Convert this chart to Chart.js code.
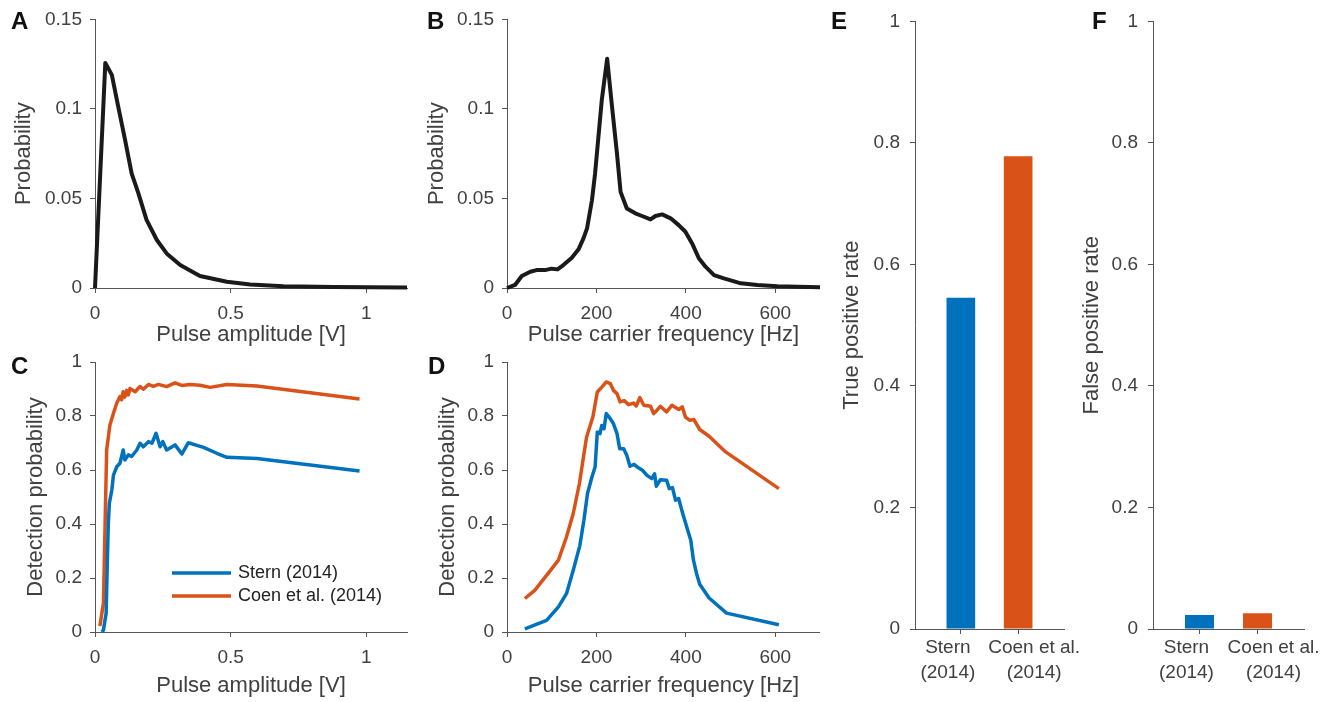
<!DOCTYPE html>
<html>
<head>
<meta charset="utf-8">
<script src="https://cdn.jsdelivr.net/npm/chart.js@4.4.1/dist/chart.umd.min.js"></script>
<style>
    body { margin: 0; background: #fff; width: 1331px; height: 702px; position: relative; overflow: hidden;
           font-family: 'Liberation Sans', Arial, Helvetica, sans-serif; }
    canvas { position: absolute; }
    .tag { position: absolute; font-weight: bold; font-size: 24px; line-height: 24px; color: #111; }
</style>
</head>
<body>
<canvas id="chartA" width="420" height="350" style="left:0px;top:0px"></canvas>
<canvas id="chartB" width="400" height="350" style="left:420px;top:0px"></canvas>
<canvas id="chartC" width="420" height="362" style="left:0px;top:340px"></canvas>
<canvas id="chartD" width="400" height="362" style="left:420px;top:340px"></canvas>
<canvas id="chartE" width="280" height="702" style="left:820px;top:0px"></canvas>
<canvas id="chartF" width="261" height="702" style="left:1070px;top:0px"></canvas>

<div class="tag" style="left:11px;top:9px">A</div>
<div class="tag" style="left:427px;top:9px">B</div>
<div class="tag" style="left:11px;top:354px">C</div>
<div class="tag" style="left:428px;top:354px">D</div>
<div class="tag" style="left:831px;top:9px">E</div>
<div class="tag" style="left:1092px;top:9px">F</div>

<script>
// ===== DATOS =====
// A: distribución de amplitud de pulso
const ampBins = [0, 0.038, 0.062, 0.086, 0.111, 0.135, 0.16, 0.19, 0.228, 0.264, 0.314, 0.387, 0.486, 0.572, 0.695, 0.88, 1.15];
const ampProb = [0, 0.1257, 0.119, 0.101, 0.0826, 0.064, 0.0528, 0.038, 0.0268, 0.0193, 0.0128, 0.0067, 0.0035, 0.002, 0.001, 0.0005, 0.0003];

// B: distribución de frecuencia portadora
const freqBins = [0, 18, 33, 52, 66, 85, 100, 113, 126, 145, 160, 171, 179, 190, 197, 212, 224, 235, 246, 254,
                  268, 287, 302, 321, 332, 347, 366, 384, 399, 414, 429, 444, 463, 485, 523, 560, 605, 650, 700];
const freqProb = [0, 0.0017, 0.0067, 0.0091, 0.010, 0.010, 0.0108, 0.0104, 0.0128, 0.0169, 0.0216, 0.0277, 0.0333, 0.049, 0.064, 0.105, 0.128, 0.101, 0.075, 0.0537,
                  0.0444, 0.0417, 0.0402, 0.0383, 0.0402, 0.0411, 0.0389, 0.0351, 0.0314, 0.0249, 0.0166, 0.0119, 0.0072, 0.0054, 0.0026, 0.0017, 0.001, 0.0007, 0.0004];

// C: detección vs amplitud
const ampSternX = [0.025, 0.031, 0.041, 0.045, 0.049, 0.053, 0.062, 0.068, 0.08, 0.092, 0.104, 0.11, 0.123, 0.135, 0.154, 0.166, 0.178, 0.197,
                   0.21, 0.225, 0.24, 0.25, 0.264, 0.295, 0.32, 0.344, 0.4, 0.449, 0.486, 0.597, 0.975];
const ampSternY = [0, 0.007, 0.069, 0.242, 0.4, 0.477, 0.526, 0.581, 0.612, 0.625, 0.674, 0.637, 0.656, 0.65, 0.674, 0.699, 0.686, 0.705,
                   0.699, 0.736, 0.686, 0.705, 0.674, 0.693, 0.659, 0.701, 0.684, 0.662, 0.647, 0.643, 0.596];
const ampCoenX = [0.018, 0.031, 0.037, 0.043, 0.055, 0.068, 0.08, 0.092, 0.098, 0.104, 0.11, 0.117, 0.123, 0.129, 0.148, 0.166, 0.178, 0.197,
                  0.215, 0.234, 0.264, 0.295, 0.32, 0.35, 0.387, 0.424, 0.486, 0.597, 0.975];
const ampCoenY = [0.022, 0.106, 0.39, 0.674, 0.767, 0.81, 0.847, 0.872, 0.86, 0.89, 0.87, 0.895, 0.878, 0.902, 0.89, 0.909, 0.899, 0.917,
                  0.91, 0.917, 0.909, 0.923, 0.913, 0.917, 0.914, 0.906, 0.917, 0.911, 0.863];

// D: detección vs frecuencia
const freqSternX = [40, 88.5, 115, 133, 148, 163, 172, 180, 190, 197, 202, 208, 212, 217, 222, 231, 238, 246, 252, 261, 268, 275,
                    284, 293, 303, 313, 324, 330, 334, 343, 357, 363, 370, 377, 384, 392, 403, 411, 417, 424, 431, 452, 491, 608];
const freqSternY = [0.012, 0.043, 0.093, 0.142, 0.228, 0.321, 0.414, 0.513, 0.574, 0.611, 0.741, 0.735, 0.765, 0.753, 0.809, 0.79, 0.772, 0.735, 0.679, 0.679, 0.654, 0.614,
                    0.621, 0.609, 0.599, 0.58, 0.568, 0.586, 0.54, 0.564, 0.562, 0.531, 0.535, 0.488, 0.494, 0.444, 0.383, 0.34, 0.266, 0.216, 0.177, 0.126, 0.07, 0.027];
const freqCoenX = [40, 62, 88.5, 115, 133, 148, 162, 171, 178, 192, 202, 212, 222, 231, 238, 246, 253, 262, 272, 283, 289, 297, 306,
                   321, 328, 332, 343, 357, 369, 384, 392, 399, 409, 418, 431, 452, 489, 608];
const freqCoenY = [0.124, 0.154, 0.21, 0.266, 0.352, 0.438, 0.55, 0.648, 0.722, 0.796, 0.889, 0.907, 0.926, 0.92, 0.895, 0.883, 0.852, 0.857, 0.842, 0.848, 0.837, 0.868, 0.84,
                   0.836, 0.809, 0.815, 0.836, 0.815, 0.84, 0.824, 0.834, 0.796, 0.784, 0.787, 0.75, 0.725, 0.667, 0.531];

// E / F: tasas por método
const methods = [['Stern', '(2014)'], ['Coen et al.', '(2014)']];
const methodNames = ['Stern (2014)', 'Coen et al. (2014)'];
const tprValues = [0.545, 0.778];
const fprValues = [0.023, 0.026];

// ticks
const ampTicks = [0, 0.5, 1];
const freqTicks = [0, 200, 400, 600];
const probTicks = [0, 0.05, 0.1, 0.15];
const unitTicks = [0, 0.2, 0.4, 0.6, 0.8, 1];

// ===== ESTILO =====
const FONT = "'Liberation Sans', Arial, Helvetica, sans-serif";
const INK = '#404040';
const AXIS = '#555555';
const BLUE = '#0072BD';
const ORANGE = '#D95319';
const BLACK = '#1a1a1a';
const TITLE_SIZE = 22;
const TICK_SIZE = 19;

Chart.defaults.font.family = FONT;
Chart.defaults.color = INK;
Chart.defaults.animation = false;

// caja del canvas + área de trazado deseada -> padding y tamaños de ejes
function frame(box, area, yTitleX, xTitleY) {
    const half = TITLE_SIZE * 1.2 / 2;
    const left = yTitleX - half - box.x;
    const xHeight = xTitleY + half - area.bottom;
    return {
        padding: {
            left,
            top: area.top - box.y,
            right: box.x + box.w - area.right,
            bottom: box.y + box.h - area.bottom - xHeight,
        },
        yWidth: area.left - box.x - left,
        xHeight,
    };
}

function scaleOpts(horiz, fr, min, max, tickVals, title, showLabels = true) {
    return {
        type: 'linear', min, max, offset: false,
        afterBuildTicks: s => { s.ticks = tickVals.map(v => ({ value: v })); },
        afterFit: s => { if (horiz) s.height = fr.xHeight; else s.width = fr.yWidth; },
        grid: { drawOnChartArea: false, drawTicks: true, tickLength: 5, color: AXIS, offset: false },
        border: { display: true, color: AXIS, width: 1 },
        ticks: {
            display: showLabels, font: { size: TICK_SIZE }, color: INK,
            padding: horiz ? 9 : 8, maxRotation: 0, autoSkip: false,
            callback: v => String(v),
        },
        title: { display: !!title, text: title, font: { size: TITLE_SIZE }, color: INK, padding: 0 },
    };
}

function series(xs, ys, color, width, label) {
    return {
        label,
        data: xs.map((x, i) => ({ x, y: ys[i] })),
        borderColor: color, borderWidth: width,
        pointRadius: 0, fill: false, clip: false, tension: 0,
        borderJoinStyle: 'round',
    };
}

// leyenda dentro del panel C
const insetLegend = {
    id: 'insetLegend',
    afterDatasetsDraw(chart) {
        const { ctx, chartArea } = chart;
        ctx.save();
        ctx.font = `18px ${FONT}`;
        ctx.textBaseline = 'middle';
        chart.data.datasets.forEach((ds, i) => {
            const y = chartArea.top + 211 + i * 23;
            ctx.strokeStyle = ds.borderColor;
            ctx.lineWidth = ds.borderWidth;
            ctx.beginPath();
            ctx.moveTo(chartArea.left + 77, y);
            ctx.lineTo(chartArea.left + 136, y);
            ctx.stroke();
            ctx.fillStyle = '#222';
            ctx.fillText(ds.label, chartArea.left + 143, y);
        });
        ctx.restore();
    }
};

// etiquetas de método bajo las barras (desplazadas como en la figura)
const labelShift = [-13, 16];
const methodLabels = {
    id: 'methodLabels',
    afterDraw(chart) {
        const { ctx } = chart;
        const xs = chart.scales.x;
        ctx.save();
        ctx.font = `${TICK_SIZE}px ${FONT}`;
        ctx.fillStyle = INK;
        ctx.textAlign = 'center';
        ctx.textBaseline = 'middle';
        methods.forEach((lines, i) => {
            const x = xs.getPixelForValue(i + 1) + labelShift[i];
            lines.forEach((t, k) => ctx.fillText(t, x, xs.top + 19 + k * 25));
        });
        ctx.restore();
    }
};

function lineChart(id, fr, datasets, xMax, xTicks, yMax, yTicks, xTitle, yTitle, plugins = []) {
    return new Chart(document.getElementById(id), {
        type: 'line',
        data: { datasets },
        options: {
            responsive: false, animation: false,
            layout: { padding: fr.padding },
            plugins: { legend: { display: false }, tooltip: { enabled: false } },
            scales: {
                x: scaleOpts(true, fr, 0, xMax, xTicks, xTitle),
                y: scaleOpts(false, fr, 0, yMax, yTicks, yTitle),
            }
        },
        plugins
    });
}

function barChart(id, fr, values, yTitle) {
    const y = scaleOpts(false, fr, 0, 1, unitTicks, yTitle);
    y.ticks.padding = 10;
    return new Chart(document.getElementById(id), {
        type: 'bar',
        data: {
            datasets: [{
                data: values.map((v, i) => ({ x: i + 1, y: v })),
                backgroundColor: [BLUE, ORANGE],
                borderWidth: 0, categoryPercentage: 1, barPercentage: 0.5,
            }]
        },
        options: {
            responsive: false, animation: false,
            layout: { padding: fr.padding },
            plugins: { legend: { display: false }, tooltip: { enabled: false } },
            scales: { x: scaleOpts(true, fr, 0.2, 2.8, [1, 2], '', false), y }
        },
        plugins: [methodLabels]
    });
}

// ===== PANELES =====
const frA = frame({ x: 0, y: 0, w: 420, h: 350 }, { left: 95, top: 19, right: 407, bottom: 288 }, 24, 335);
const frB = frame({ x: 420, y: 0, w: 400, h: 350 }, { left: 507, top: 19, right: 820, bottom: 288 }, 437, 335);
const frC = frame({ x: 0, y: 340, w: 420, h: 362 }, { left: 95, top: 362, right: 407, bottom: 632 }, 36, 686);
const frD = frame({ x: 420, y: 340, w: 400, h: 362 }, { left: 507, top: 362, right: 820, bottom: 632 }, 448, 686);
const frE = frame({ x: 820, y: 0, w: 280, h: 702 }, { left: 915, top: 18, right: 1064, bottom: 629 }, 852, 676);
const frF = frame({ x: 1070, y: 0, w: 261, h: 702 }, { left: 1153, top: 18, right: 1304, bottom: 629 }, 1092, 676);

lineChart('chartA', frA, [series(ampBins, ampProb, BLACK, 4, 'Probability')],
    1.15, ampTicks, 0.15, probTicks, 'Pulse amplitude [V]', 'Probability');

lineChart('chartB', frB, [series(freqBins, freqProb, BLACK, 4, 'Probability')],
    700, freqTicks, 0.15, probTicks, 'Pulse carrier frequency [Hz]', 'Probability');

lineChart('chartC', frC, [
        series(ampSternX, ampSternY, BLUE, 3.5, methodNames[0]),
        series(ampCoenX, ampCoenY, ORANGE, 3.5, methodNames[1]),
    ], 1.15, ampTicks, 1, unitTicks, 'Pulse amplitude [V]', 'Detection probability', [insetLegend]);

lineChart('chartD', frD, [
        series(freqSternX, freqSternY, BLUE, 3.5, methodNames[0]),
        series(freqCoenX, freqCoenY, ORANGE, 3.5, methodNames[1]),
    ], 700, freqTicks, 1, unitTicks, 'Pulse carrier frequency [Hz]', 'Detection probability');

barChart('chartE', frE, tprValues, 'True positive rate');
barChart('chartF', frF, fprValues, 'False positive rate');
</script>
</body>
</html>
